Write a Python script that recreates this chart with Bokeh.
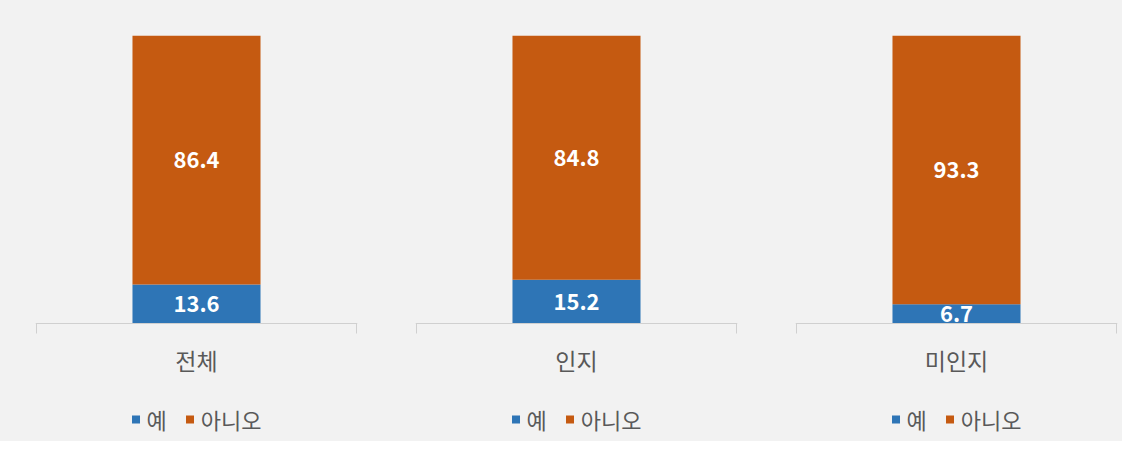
from bokeh.plotting import figure
from bokeh.models import ColumnDataSource, FixedTicker, Legend, LegendItem, Range1d
from bokeh.layouts import row
from bokeh.core.properties import value
from bokeh.embed import file_html
from bokeh.resources import INLINE

categories = ["전체", "인지", "미인지"]
yes_values = [13.6, 15.2, 6.7]
no_values = [86.4, 84.8, 93.3]
series_names = ["예", "아니오"]
colors = ["#2e75b6", "#c55a11"]

BG = "#f2f2f2"
KR = "Noto Sans CJK KR"

widths = [386, 380, 356]
border_left = [35, 29, 29]
border_right = [29, 29, 5]

figs = []
for i, cat in enumerate(categories):
    p = figure(width=widths[i], height=441, x_range=Range1d(-0.003, 1.003),
               y_range=Range1d(-40.6, 100),
               output_backend="svg", toolbar_location=None, y_axis_location=None,
               min_border_left=border_left[i], min_border_right=border_right[i],
               min_border_top=35, min_border_bottom=1,
               background_fill_color=BG, border_fill_color=BG, outline_line_color=None)
    p.xgrid.visible = False
    p.ygrid.visible = False

    yes = yes_values[i]
    no = no_values[i]
    src = ColumnDataSource(dict(
        x=[0.5], yes=[yes], total=[yes + no],
        yes_mid=[yes / 2], no_mid=[yes + no / 2],
        yes_txt=[f"{yes:.1f}"], no_txt=[f"{no:.1f}"],
    ))
    r_yes = p.vbar(x="x", bottom=0, top="yes", width=0.4, source=src,
                   fill_color=colors[0], line_color=None)
    r_no = p.vbar(x="x", bottom="yes", top="total", width=0.4, source=src,
                  fill_color=colors[1], line_color=None)
    for col, ycol in (("yes_txt", "yes_mid"), ("no_txt", "no_mid")):
        p.text(x="x", y=ycol, text=col, source=src, text_align="center",
               text_baseline="middle", text_color="white",
               text_font=value(KR), text_font_style="bold", text_font_size="22px")

    ax = p.xaxis[0]
    ax.fixed_location = 0
    ax.ticker = FixedTicker(ticks=[0.5], minor_ticks=[0, 1])
    ax.major_label_overrides = {0.5: cat}
    ax.major_tick_line_color = None
    ax.major_tick_out = 10
    ax.major_tick_in = 0
    ax.minor_tick_line_color = "#d0d0d0"
    ax.minor_tick_out = 10
    ax.minor_tick_in = 0
    ax.axis_line_color = "#d0d0d0"
    ax.major_label_standoff = 9
    ax.major_label_text_font = KR
    ax.major_label_text_font_size = "23px"
    ax.major_label_text_color = "#595959"

    legend = Legend(items=[LegendItem(label=series_names[0], renderers=[r_yes]),
                           LegendItem(label=series_names[1], renderers=[r_no])],
                    orientation="horizontal", location="bottom_center",
                    background_fill_alpha=0, border_line_color=None,
                    glyph_width=10, glyph_height=10, label_standoff=6,
                    spacing=18, padding=0, margin=5,
                    label_text_font=KR, label_text_font_size="22px",
                    label_text_color="#595959")
    p.add_layout(legend)
    figs.append(p)

layout = row(*figs, spacing=0, styles={"background-color": BG})
open("out.html", "w").write(file_html(layout, INLINE))
